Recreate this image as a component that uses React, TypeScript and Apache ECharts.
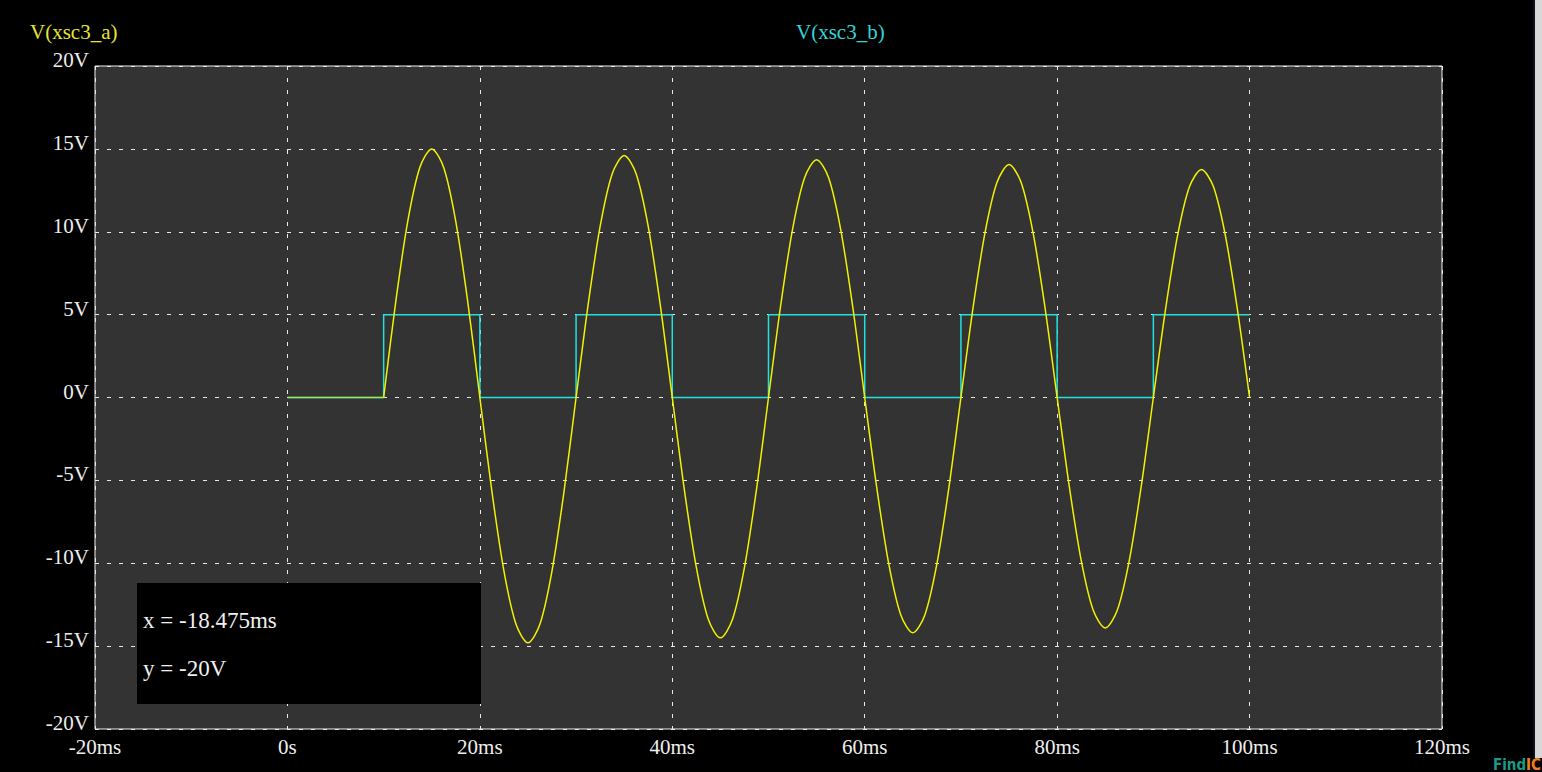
import React, { useEffect, useRef } from "react";
import * as echarts from "echarts";

const xTicksMin = -20;
const xTicksMax = 120;
const xInterval = 20;
const yMin = -20;
const yMax = 20;
const yInterval = 5;

const seriesNames = ["V(xsc3_a)", "V(xsc3_b)"];

// Flat lead-in of V(xsc3_a) before the sine starts
const leadTimes = [0, 10];
const leadValues = [0, 0];

const sineTimes = [
  10, 11.25, 12.5, 13.75, 15, 16.25, 17.5, 18.75, 20,
  21.25, 22.5, 23.75, 25, 26.25, 27.5, 28.75, 30,
  31.25, 32.5, 33.75, 35, 36.25, 37.5, 38.75, 40,
  41.25, 42.5, 43.75, 45, 46.25, 47.5, 48.75, 50,
  51.25, 52.5, 53.75, 55, 56.25, 57.5, 58.75, 60,
  61.25, 62.5, 63.75, 65, 66.25, 67.5, 68.75, 70,
  71.25, 72.5, 73.75, 75, 76.25, 77.5, 78.75, 80,
  81.25, 82.5, 83.75, 85, 86.25, 87.5, 88.75, 90,
  91.25, 92.5, 93.75, 95, 96.25, 97.5, 98.75, 100,
];
const sineValues = [
  0, 5.74, 10.61, 13.86, 15.0, 13.86, 10.61, 5.74, 0,
  -5.66, -10.46, -13.67, -14.8, -13.67, -10.46, -5.66, 0,
  5.59, 10.32, 13.49, 14.6, 13.49, 10.32, 5.59, 0,
  -5.55, -10.25, -13.4, -14.5, -13.4, -10.25, -5.55, 0,
  5.49, 10.15, 13.26, 14.35, 13.26, 10.15, 5.49, 0,
  -5.43, -10.04, -13.12, -14.2, -13.12, -10.04, -5.43, 0,
  5.38, 9.93, 12.98, 14.05, 12.98, 9.93, 5.38, 0,
  -5.32, -9.83, -12.84, -13.9, -12.84, -9.83, -5.32, 0,
  5.26, 9.72, 12.71, 13.75, 12.71, 9.72, 5.26, 0,
];

const squareTimes = [0, 10, 10, 20, 20, 30, 30, 40, 40, 50, 50, 60, 60, 70, 70, 80, 80, 90, 90, 100];
const squareValues = [0, 0, 5, 5, 0, 0, 5, 5, 0, 0, 5, 5, 0, 0, 5, 5, 0, 0, 5, 5];

const cursorLines = ["x = -18.475ms", "y = -20V"];

const SERIF = "'Liberation Serif', 'Times New Roman', serif";
const YELLOW = "#f2f200";
const CYAN = "#22e0e0";

export default function App() {
  const ref = useRef<HTMLDivElement>(null);
  useEffect(() => {
    if (!ref.current) return;
    const chart = echarts.init(ref.current, undefined, { renderer: "svg" });
    const leadData = leadTimes.map((t, i) => [t, leadValues[i]]);
    const sineData = sineTimes.map((t, i) => [t, sineValues[i]]);
    const squareData = squareTimes.map((t, i) => [t, squareValues[i]]);
    chart.setOption({
      animation: false,
      backgroundColor: "#000",
      grid: {
        left: 95,
        top: 66,
        right: 100,
        bottom: 43,
        show: true,
        backgroundColor: "#333333",
        borderColor: "#f0f0f0",
        borderWidth: 1,
      },
      xAxis: {
        type: "value",
        min: xTicksMin,
        max: xTicksMax,
        interval: xInterval,
        axisLine: { show: false },
        axisTick: { show: false },
        axisLabel: {
          color: "#eeeeee",
          fontFamily: SERIF,
          fontSize: 21,
          margin: 7,
          formatter: (v: number) => (v === 0 ? "0s" : `${v}ms`),
        },
        splitLine: {
          show: true,
          lineStyle: { color: "#e8e8e8", type: [4, 8], width: 1 },
        },
      },
      yAxis: {
        type: "value",
        min: yMin,
        max: yMax,
        interval: yInterval,
        axisLine: { show: false },
        axisTick: { show: false },
        axisLabel: {
          color: "#eeeeee",
          fontFamily: SERIF,
          fontSize: 21,
          margin: 6,
          verticalAlign: "bottom",
          lineHeight: 12,
          formatter: (v: number) => `${v}V`,
        },
        splitLine: {
          show: true,
          lineStyle: { color: "#e8e8e8", type: [4, 8], width: 1 },
        },
      },
      series: [
        {
          name: seriesNames[1],
          type: "line",
          data: squareData,
          showSymbol: false,
          lineStyle: { color: CYAN, width: 1.5 },
          z: 2,
        },
        {
          name: seriesNames[0],
          type: "line",
          data: leadData,
          showSymbol: false,
          lineStyle: { color: YELLOW, width: 1.5, opacity: 0.6 },
          z: 3,
        },
        {
          name: seriesNames[0],
          type: "line",
          data: sineData,
          smooth: 0.3,
          showSymbol: false,
          lineStyle: { color: YELLOW, width: 1.5 },
          z: 3,
        },
      ],
      graphic: [
        {
          type: "text",
          left: 30,
          top: 21,
          style: { text: seriesNames[0], fill: "#e6e633", font: `21px ${SERIF}` },
        },
        {
          type: "text",
          left: 796,
          top: 21,
          style: { text: seriesNames[1], fill: "#33d6d6", font: `21px ${SERIF}` },
        },
        {
          type: "rect",
          shape: { x: 137, y: 583, width: 344, height: 121 },
          style: { fill: "#000" },
          z: 100,
        },
        {
          type: "text",
          x: 143,
          y: 620,
          style: { text: cursorLines[0], fill: "#f0f0f0", font: `23px ${SERIF}`, verticalAlign: "middle" },
          z: 101,
        },
        {
          type: "text",
          x: 143,
          y: 668,
          style: { text: cursorLines[1], fill: "#f0f0f0", font: `23px ${SERIF}`, verticalAlign: "middle" },
          z: 101,
        },
        {
          type: "rect",
          shape: { x: 1535, y: 0, width: 7, height: 758 },
          style: { fill: "#d8d8d8" },
          z: 100,
        },
        {
          type: "rect",
          shape: { x: 1533, y: 0, width: 2, height: 758 },
          style: { fill: "#101018" },
          z: 101,
        },
        {
          type: "text",
          x: 1541,
          y: 772,
          style: {
            text: "{g|Find}{o|IC}",
            align: "right",
            verticalAlign: "bottom",
            rich: {
              g: { fill: "#1a9a8a", font: "bold 15px 'Liberation Sans Narrow', 'DejaVu Sans Condensed', sans-serif" },
              o: { fill: "#f08020", font: "bold 15px 'Liberation Sans Narrow', 'DejaVu Sans Condensed', sans-serif" },
            },
          },
          z: 102,
        },
      ],
    });
    return () => chart.dispose();
  }, []);
  return (
    <div
      ref={ref}
      style={{ position: "fixed", left: 0, top: 0, width: 1542, height: 772 }}
    />
  );
}
